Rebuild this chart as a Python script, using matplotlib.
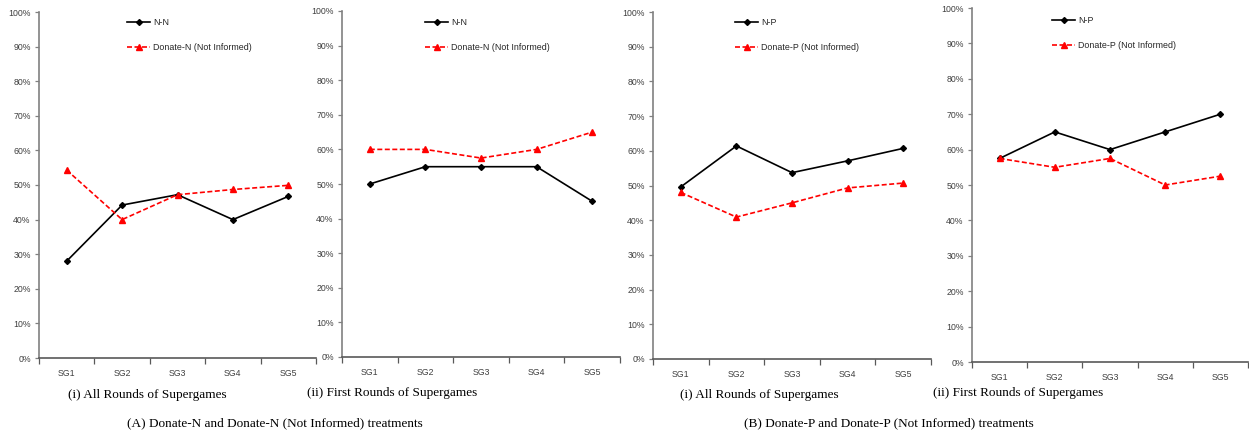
import matplotlib
matplotlib.use("Agg")
import matplotlib.pyplot as plt
from matplotlib.ticker import FixedLocator, PercentFormatter

categories = ["SG1", "SG2", "SG3", "SG4", "SG5"]

# Panel A(i)
a1_nn = [28.0, 44.2, 47.2, 40.0, 46.7]
a1_dn = [54.3, 40.0, 47.2, 48.7, 49.9]
# Panel A(ii)
a2_nn = [50.0, 55.0, 55.0, 55.0, 45.0]
a2_dn = [60.0, 60.0, 57.5, 60.0, 65.0]
# Panel B(i)
b1_np = [49.6, 61.4, 53.7, 57.1, 60.7]
b1_dp = [48.0, 40.9, 45.0, 49.3, 50.7]
# Panel B(ii)
b2_np = [57.5, 65.0, 60.0, 65.0, 70.0]
b2_dp = [57.5, 55.0, 57.5, 50.0, 52.5]

W, H = 1249, 434
fig = plt.figure(figsize=(W / 100, H / 100), dpi=100)

def px_axes(l, r, t, b):
    return [l / W, 1 - b / H, (r - l) / W, (b - t) / H]

panels = [
    (px_axes(39, 316, 12, 358), a1_nn, a1_dn, "N-N", "Donate-N (Not Informed)", (127, 21)),
    (px_axes(342, 620, 11, 357), a2_nn, a2_dn, "N-N", "Donate-N (Not Informed)", (425, 21)),
    (px_axes(653, 931, 12, 359), b1_np, b1_dp, "N-P", "Donate-P (Not Informed)", (735, 21)),
    (px_axes(972, 1248, 8, 362), b2_np, b2_dp, "N-P", "Donate-P (Not Informed)", (1052, 19)),
]

font = ["Liberation Sans", "DejaVu Sans"]
x = list(range(len(categories)))

for rect, s1, s2, l1, l2, (lx, ly) in panels:
    ax = fig.add_axes(rect)
    h1, = ax.plot(x, s1, color="black", lw=1.2, marker="D", ms=3, label=l1)
    h2, = ax.plot(x, s2, color="#ff0000", lw=1.2, ls=(0, (3, 1.5)), marker="^", ms=4.5, label=l2)
    ax.set_xlim(-0.5, 4.5)
    ax.set_ylim(0, 100)
    ax.yaxis.set_major_locator(FixedLocator(range(0, 101, 10)))
    ax.yaxis.set_major_formatter(PercentFormatter(decimals=0))
    ax.set_xticks(x)
    ax.set_xticklabels(categories)
    ax.xaxis.set_minor_locator(FixedLocator([i - 0.5 for i in range(6)]))
    ax.tick_params(axis="x", which="major", length=0, pad=8, labelsize=6.3, labelcolor="#404040")
    ax.tick_params(axis="x", which="minor", length=4, direction="out", color="#595959", width=0.9)
    ax.tick_params(axis="y", which="major", length=3, direction="out", color="#808080", width=0.9,
                   labelsize=6.3, labelcolor="#404040", pad=3)
    for lab in ax.get_xticklabels() + ax.get_yticklabels():
        lab.set_family(font)
    for s in ["top", "right"]:
        ax.spines[s].set_visible(False)
    ax.spines["left"].set_color("#808080")
    ax.spines["bottom"].set_color("#595959")
    ax.spines["left"].set_linewidth(1.2)
    ax.spines["bottom"].set_linewidth(1.2)
    leg = ax.legend(handles=[h1, h2], loc="center left",
                    bbox_to_anchor=(lx / W, 1 - (ly + 14) / H), bbox_transform=fig.transFigure,
                    frameon=False, handlelength=2.6, handletextpad=0.3,
                    labelspacing=1.82, borderpad=0, borderaxespad=0,
                    prop={"family": font, "size": 6.4})
    for t in leg.get_texts():
        t.set_color("#262626")

cap = dict(family=["Liberation Serif", "DejaVu Serif"], fontsize=9.5, ha="center", va="center")
fig.text(147 / W, 1 - 395 / H, "(i) All Rounds of Supergames", **cap)
fig.text(392 / W, 1 - 393 / H, "(ii) First Rounds of Supergames", **cap)
fig.text(275 / W, 1 - 423 / H, "(A) Donate-N and Donate-N (Not Informed) treatments", **cap)
fig.text(759 / W, 1 - 395 / H, "(i) All Rounds of Supergames", **cap)
fig.text(1018 / W, 1 - 393 / H, "(ii) First Rounds of Supergames", **cap)
fig.text(889 / W, 1 - 423 / H, "(B) Donate-P and Donate-P (Not Informed) treatments", **cap)

fig.savefig("out.png", dpi=100)
